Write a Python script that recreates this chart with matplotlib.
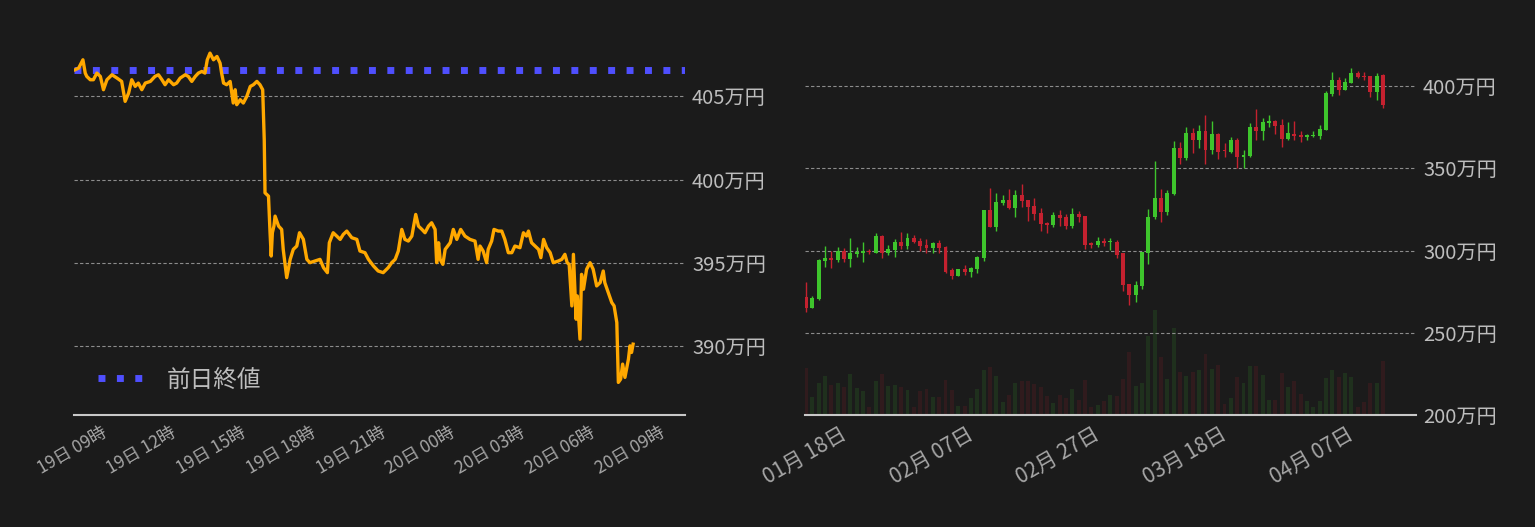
import pandas as pd
import matplotlib
matplotlib.use('Agg')
import matplotlib.pyplot as plt
import matplotlib.dates as mdates
from matplotlib.ticker import FuncFormatter

plt.rcParams['font.family'] = ['Noto Sans CJK JP', 'DejaVu Sans']

BG = '#1b1b1b'
GREEN = '#3ec52c'
RED = '#c4212f'

# ---- 1日チャート (左) ----
intraday_start = '2024-04-19 07:30'
intraday_minutes = [
    0, 9, 20, 26, 30, 39, 47, 56, 65, 73, 82, 95, 108, 120, 129, 138, 146, 155, 163, 172,
    181, 194, 206, 215, 224, 232, 241, 254, 262, 271, 284, 292, 301, 310, 318, 327, 335, 341, 348, 357,
    366, 374, 378, 383, 391, 400, 408, 413, 417, 426, 434, 443, 452, 460, 469, 477, 484, 488, 490, 499,
    503, 506, 509, 513, 516, 525, 533, 537, 546, 555, 563, 572, 579, 589, 598, 606, 619, 632, 641, 651,
    656, 666, 675, 684, 692, 701, 714, 727, 735, 748, 757, 770, 782, 795, 808, 817, 826, 834, 843, 851,
    860, 869, 879, 886, 895, 903, 912, 920, 929, 933, 938, 942, 949, 955, 968, 976, 985, 995, 1006, 1019,
    1032, 1040, 1045, 1053, 1062, 1066, 1075, 1081, 1092, 1101, 1109, 1118, 1127, 1135, 1148, 1157, 1165, 1170, 1178, 1187,
    1196, 1202, 1209, 1217, 1226, 1234, 1247, 1256, 1264, 1270, 1275, 1282, 1286, 1293, 1296, 1303, 1307, 1312, 1320, 1329,
    1337, 1346, 1355, 1363, 1367, 1376, 1385, 1391, 1398, 1402, 1408, 1413, 1419, 1428, 1432, 1436, 1440,
]
intraday_price = [
    406.6, 406.7, 407.2, 406.4, 406.2, 406.0, 406.0, 406.4, 406.2, 405.4, 406.0, 406.3, 406.1, 405.9, 404.7, 405.2, 406.0, 405.6, 405.8, 405.4,
    405.8, 405.9, 406.2, 406.3, 406.0, 405.7, 406.0, 405.7, 405.8, 406.1, 406.3, 406.2, 405.9, 406.2, 406.4, 406.5, 406.4, 407.2, 407.6, 407.2,
    407.4, 407.0, 406.4, 405.8, 405.7, 405.9, 404.6, 405.4, 404.5, 404.8, 404.6, 405.0, 405.6, 405.7, 405.9, 405.7, 405.4, 402.4, 399.2, 399.0,
    396.8, 395.4, 396.8, 397.2, 397.8, 397.2, 397.0, 395.8, 394.1, 395.2, 395.8, 396.0, 396.8, 396.4, 395.2, 395.0, 395.1, 395.2, 394.7, 394.4,
    396.2, 396.8, 396.6, 396.4, 396.7, 396.9, 396.5, 396.4, 395.7, 395.6, 395.2, 394.8, 394.5, 394.4, 394.7, 395.0, 395.2, 395.7, 397.0, 396.4,
    396.3, 396.6, 397.9, 397.2, 397.0, 396.8, 397.2, 397.4, 397.0, 395.0, 396.2, 395.2, 394.9, 395.8, 396.2, 397.0, 396.4, 397.0, 396.6, 396.4,
    396.3, 395.2, 396.0, 395.7, 395.0, 395.8, 396.3, 397.0, 396.9, 396.9, 396.4, 395.6, 395.6, 396.0, 395.9, 396.8, 396.6, 396.9, 396.2, 396.0,
    395.8, 395.3, 396.4, 395.9, 395.6, 395.0, 395.1, 395.2, 395.5, 395.0, 394.9, 392.4, 395.5, 391.6, 393.0, 390.4, 394.3, 393.4, 394.6, 395.0,
    394.6, 393.6, 393.8, 394.5, 393.8, 393.2, 392.6, 392.4, 391.4, 387.8, 388.0, 388.9, 388.1, 389.2, 390.0, 389.6, 390.1,
]
prev_close = 406.6
left_yticks = [390, 395, 400, 405]

# ---- 日足チャート (右) ----
daily_start = '2024-01-11'
opens = [
    271.7, 265.1, 270.5, 293.4, 295.2, 294.0, 300.0, 294.6, 297.6, 298.8, 300.0, 298.8, 309.0, 298.8, 300.6, 305.4, 303.0, 307.8, 306.0, 303.6,
    301.8, 304.8, 302.4, 287.9, 284.3, 288.6, 286.7, 288.6, 295.2, 324.7, 314.5, 328.9, 330.7, 325.9, 333.7, 330.7, 327.1, 322.9, 316.9, 315.7,
    321.7, 320.5, 315.1, 322.3, 321.1, 304.8, 303.6, 306.0, 305.4, 305.4, 298.2, 279.5, 272.9, 278.3, 298.8, 320.5, 331.9, 323.5, 334.4, 362.1,
    356.0, 371.7, 366.9, 372.9, 360.9, 371.1, 360.9, 360.2, 366.9, 356.6, 357.2, 375.3, 372.9, 377.7, 378.9, 376.5, 368.1, 371.1, 370.5, 369.3,
    369.9, 369.9, 373.5, 395.2, 403.6, 397.6, 401.8, 407.8, 406.0, 406.0, 396.4, 406.6,
]
highs = [
    280.7, 272.3, 294.6, 303.0, 299.6, 302.4, 301.8, 307.8, 302.4, 305.4, 301.2, 310.9, 309.6, 303.6, 307.2, 311.4, 310.9, 309.6, 307.8, 307.2,
    305.4, 306.6, 303.0, 289.2, 288.6, 291.0, 289.8, 296.4, 324.7, 337.9, 334.9, 333.7, 337.3, 336.7, 340.4, 330.7, 331.9, 326.0, 317.5, 323.5,
    324.7, 322.3, 325.9, 324.1, 321.1, 305.4, 308.4, 307.8, 307.8, 306.6, 298.8, 279.5, 281.3, 299.4, 325.3, 354.2, 337.3, 336.7, 366.3, 365.7,
    375.3, 374.7, 376.5, 382.5, 378.9, 371.7, 365.1, 369.3, 368.7, 360.9, 377.7, 386.1, 380.7, 382.5, 379.5, 380.1, 378.3, 378.9, 372.9, 371.1,
    372.9, 376.5, 397.0, 408.4, 405.4, 404.8, 410.8, 409.0, 408.4, 406.0, 407.8, 407.2,
]
lows = [
    262.9, 265.1, 269.9, 289.8, 289.2, 292.8, 292.8, 289.8, 295.8, 292.8, 297.6, 298.8, 295.2, 297.0, 295.8, 301.2, 301.2, 304.8, 300.0, 298.8,
    298.8, 298.8, 286.1, 282.5, 284.3, 284.9, 283.7, 286.1, 293.4, 314.5, 312.1, 327.7, 325.3, 320.5, 326.5, 318.1, 318.7, 312.1, 310.9, 314.5,
    315.1, 313.3, 313.9, 317.5, 301.2, 301.8, 302.4, 303.0, 300.6, 295.2, 275.3, 266.9, 268.7, 276.5, 291.6, 319.3, 317.5, 321.7, 333.7, 352.4,
    354.8, 359.6, 362.1, 352.4, 358.4, 355.4, 356.6, 359.6, 350.0, 350.0, 356.6, 366.9, 367.5, 375.3, 371.1, 363.2, 366.9, 367.5, 365.7, 367.5,
    369.3, 368.1, 373.5, 394.0, 394.6, 397.6, 401.8, 404.8, 403.6, 393.4, 391.6, 386.7,
]
closes = [
    265.1, 271.1, 294.0, 295.2, 294.0, 300.0, 294.6, 298.2, 299.4, 300.0, 299.0, 309.0, 298.8, 301.2, 305.4, 303.0, 307.8, 305.4, 303.0, 301.8,
    304.8, 301.8, 286.7, 284.3, 288.6, 286.7, 289.2, 295.8, 324.7, 314.5, 329.5, 330.7, 325.9, 333.7, 330.1, 326.5, 322.3, 316.3, 315.7, 321.7,
    319.9, 315.1, 322.3, 320.5, 303.6, 303.6, 306.0, 304.8, 306.0, 297.0, 278.9, 272.9, 278.9, 298.8, 320.5, 331.9, 323.5, 334.9, 362.1, 356.0,
    371.7, 366.9, 372.9, 360.9, 371.1, 360.2, 360.4, 366.9, 356.6, 357.8, 375.3, 372.9, 378.3, 378.9, 375.9, 368.1, 371.7, 369.9, 369.3, 370.5,
    370.5, 374.1, 395.8, 403.6, 397.6, 402.4, 407.8, 405.4, 405.6, 396.4, 406.0, 388.6,
]
volumes = [
    141, 54, 97, 117, 90, 97, 84, 123, 81, 72, 24, 102, 123, 87, 90, 84, 75, 24, 72, 78,
    54, 54, 105, 75, 27, 27, 51, 78, 135, 144, 117, 39, 60, 96, 102, 102, 93, 84, 57, 36,
    60, 51, 78, 45, 105, 24, 30, 42, 60, 57, 108, 189, 87, 96, 237, 315, 174, 108, 261, 129,
    117, 129, 135, 183, 138, 150, 33, 51, 114, 96, 147, 147, 120, 45, 45, 126, 84, 102, 63, 42,
    24, 42, 111, 135, 114, 126, 114, 24, 39, 96, 96, 162,
]
right_yticks = [200, 250, 300, 350, 400]
date_ticks = ['2024-01-18', '2024-02-07', '2024-02-27', '2024-03-18', '2024-04-07']


def yen(v, pos):
    return f'{int(v)}万円'


def style_axes(ax):
    for side in ['top', 'left', 'right']:
        ax.spines[side].set_visible(False)
    ax.spines['bottom'].set_color('#c8c8c8')
    ax.spines['bottom'].set_linewidth(1.5)
    ax.set_facecolor('none')
    ax.yaxis.tick_right()
    ax.tick_params(axis='y', length=0, pad=5, labelsize=14.5, labelcolor='#bdbdbd')
    ax.tick_params(axis='x', length=0, pad=6, labelcolor='#a6a6a6')
    ax.yaxis.set_major_formatter(FuncFormatter(yen))
    ax.grid(axis='y', color='#8c8c8c', linestyle=(0, (3, 2)), linewidth=0.8)
    ax.set_axisbelow(True)


fig = plt.figure(figsize=(15.35, 5.27), dpi=100, facecolor=BG)

# 左
ax1 = fig.add_axes([74 / 1535, 112 / 527, 611 / 1535, 375 / 527])
style_axes(ax1)
t0 = pd.Timestamp(intraday_start)
times = t0 + pd.to_timedelta(intraday_minutes, unit='m')
ax1.plot(times, intraday_price, color='#ffa800', lw=2.4, zorder=3)
ax1.axhline(prev_close, color='#4f4fff', ls=':', lw=5, label='前日終値', zorder=2)
ax1.set_ylim(385.84, 408.39)
ax1.set_yticks(left_yticks)
ax1.set_xlim(t0 - pd.Timedelta(minutes=3), t0 + pd.Timedelta(minutes=1574))
ax1.xaxis.set_major_locator(mdates.HourLocator(byhour=range(0, 24, 3)))
ax1.xaxis.set_major_formatter(mdates.DateFormatter('%d日 %H時'))
plt.setp(ax1.get_xticklabels(), rotation=30, ha='right', fontsize=12.5)
leg = ax1.legend(loc='center left', bbox_to_anchor=(24 / 611, 35 / 375), frameon=False,
                 fontsize=17, handlelength=1.85, handletextpad=1.05, borderpad=0, borderaxespad=0)
for txt in leg.get_texts():
    txt.set_color('#bdbdbd')

# 右
rect2 = [805 / 1535, 112 / 527, 611 / 1535, 375 / 527]
ax2 = fig.add_axes(rect2)
ax_vol = ax2.twinx()
ax2.set_zorder(2)
ax_vol.set_zorder(1)
style_axes(ax2)
ax_vol.set_facecolor('none')
for side in ax_vol.spines:
    ax_vol.spines[side].set_visible(False)
ax_vol.set_yticks([])

days = mdates.date2num(pd.date_range(daily_start, periods=len(opens), freq='D'))
colors = [GREEN if c >= o else RED for o, c in zip(opens, closes)]
bottoms = [min(o, c) for o, c in zip(opens, closes)]
bodies = [max(abs(c - o), 0.6) for o, c in zip(opens, closes)]

ax_vol.bar(days, volumes, width=0.62, color=colors, alpha=0.13)
ax_vol.set_ylim(0, 1125)

ax2.vlines(days, lows, highs, colors=colors, lw=1.0, zorder=3)
ax2.bar(days, bodies, bottom=bottoms, width=0.62, color=colors, zorder=4)
ax2.set_ylim(200, 428)
ax2.set_yticks(right_yticks)
ax2.set_xlim(days[0] - 0.16, days[0] + 96.2)
ax2.set_xticks(mdates.date2num(pd.to_datetime(date_ticks)))
ax2.xaxis.set_major_formatter(mdates.DateFormatter('%m月 %d日'))
plt.setp(ax2.get_xticklabels(), rotation=30, ha='right', fontsize=15)

fig.savefig('out.png', dpi=100, facecolor=BG)
